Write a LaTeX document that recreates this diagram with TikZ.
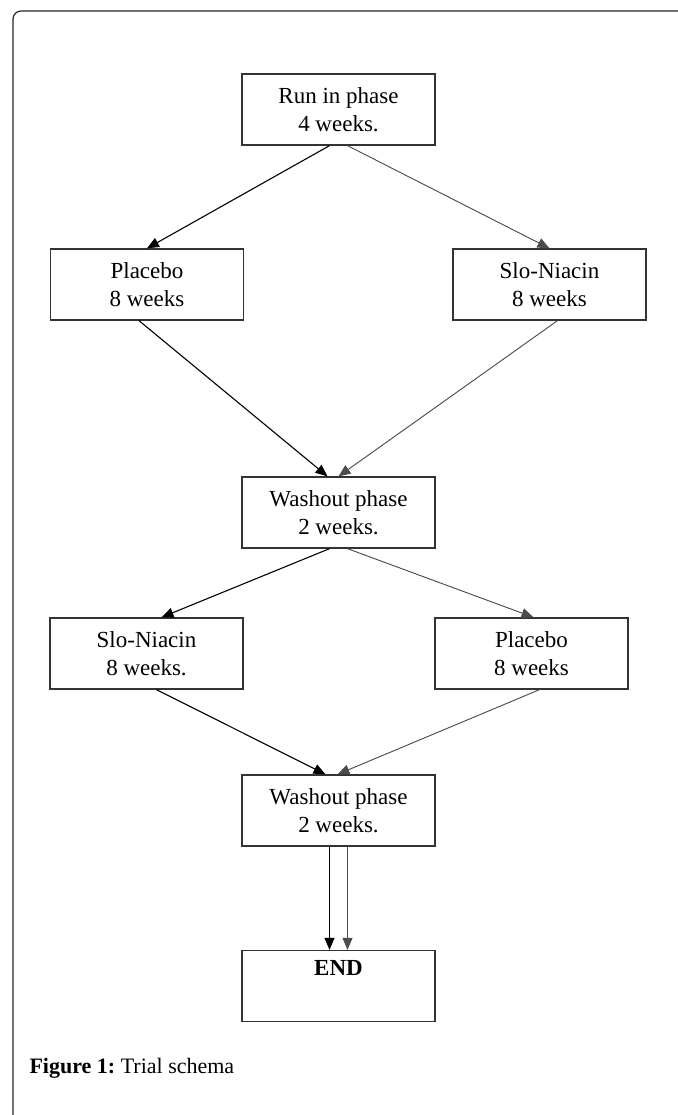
\documentclass[tikz,border=0pt]{standalone}
\usepackage{fontspec}
\setmainfont{Liberation Serif}
\usetikzlibrary{arrows.meta}

\begin{document}
\begin{tikzpicture}[x = 1pt, y = 1pt,
                phase/.style = {draw = black!80, line width = 1.3pt, minimum width = 193pt, minimum height = 71pt, inner sep = 0pt, align = center, font = \fontsize{23}{28}\selectfont},
                link/.style = {line width = 1.1pt, -{Triangle[length = 12pt, width = 10pt]}},
                linklight/.style = {link, draw = black!70, fill = black!70, line width = 0.9pt}]
                \useasboundingbox (0, 0) rectangle (677, -1115);
                \draw [color = black!85, line width = 1.2pt, rounded corners = 8pt] (13, -1130) -- (13, -11) -- (700, -11);

                \node [phase] (run) at (338.5, -109.5) {Run in phase\\4 weeks.};
                \node [phase] (placeboA) at (147, -284.5) {Placebo\\8 weeks};
                \node [phase] (niacinA) at (549.5, -284.5) {Slo-Niacin\\8 weeks};
                \node [phase] (washA) at (338.5, -512.5) {Washout phase\\2 weeks.};
                \node [phase] (niacinB) at (146.5, -653.5) {Slo-Niacin\\8 weeks.};
                \node [phase] (placeboB) at (531.5, -653.5) {Placebo\\8 weeks};
                \node [phase] (washB) at (338.5, -810.5) {Washout phase\\2 weeks.};
                \node [phase] (finish) at (338.5, -986) {\textbf{END}\\\strut};

                \draw [link] ([xshift = -9pt] run.south) -- (placeboA.north);
                \draw [linklight] ([xshift = 9pt] run.south) -- (niacinA.north);
                \draw [link] ([xshift = -8pt] placeboA.south) -- ([xshift = -11pt] washA.north);
                \draw [linklight] ([xshift = 8pt] niacinA.south) -- (washA.north);
                \draw [link] ([xshift = -9pt] washA.south) -- ([xshift = 15pt] niacinB.north);
                \draw [linklight] ([xshift = 9pt] washA.south) -- ([xshift = 2pt] placeboB.north);
                \draw [link] ([xshift = 10pt] niacinB.south) -- ([xshift = -13pt] washB.north);
                \draw [linklight] ([xshift = 8pt] placeboB.south) -- ([xshift = -1pt] washB.north);
                \draw [link] ([xshift = -9pt] washB.south) -- ([xshift = -9pt] finish.north);
                \draw [linklight] ([xshift = 9pt] washB.south) -- ([xshift = 9pt] finish.north);

                \node [anchor = base west, font = \fontsize{22}{26}\selectfont] (caption) at (26, -1073) {\textbf{Figure 1:}~Trial schema};
            \end{tikzpicture}
\end{document}
